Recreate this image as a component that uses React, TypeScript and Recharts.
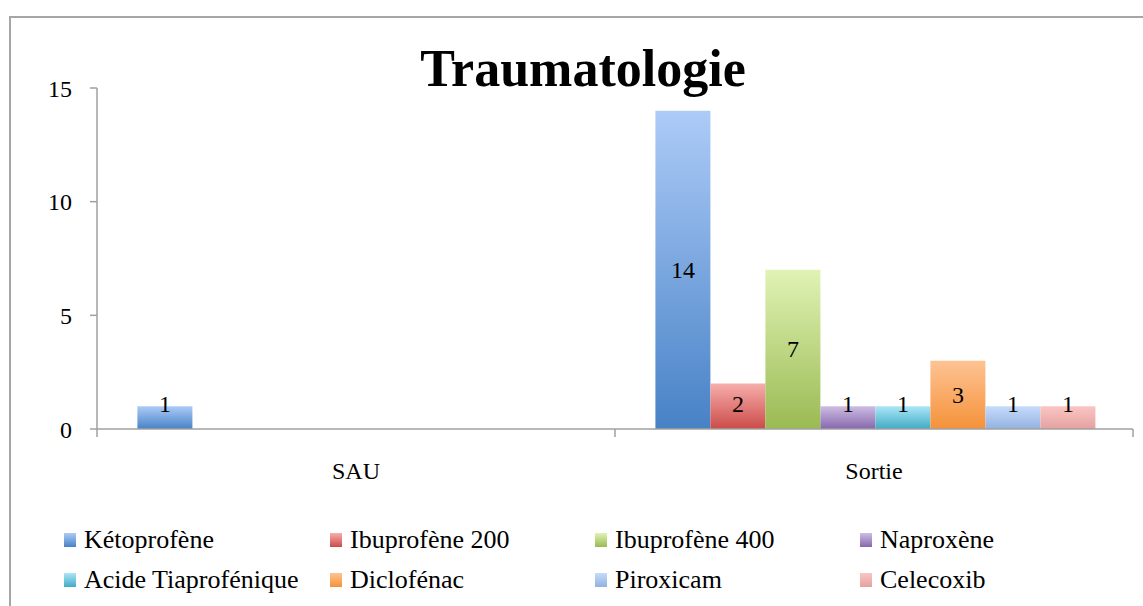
import React from "react";
import { BarChart, Bar, XAxis, YAxis, Legend, LabelList } from "recharts";

const categories = ["SAU", "Sortie"];
const seriesNames = [
  "Kétoprofène",
  "Ibuprofène 200",
  "Ibuprofène 400",
  "Naproxène",
  "Acide Tiaprofénique",
  "Diclofénac",
  "Piroxicam",
  "Celecoxib",
];
const ketoprofene = [1, 14];
const ibuprofene200 = [null, 2];
const ibuprofene400 = [null, 7];
const naproxene = [null, 1];
const acideTiaprofenique = [null, 1];
const diclofenac = [null, 3];
const piroxicam = [null, 1];
const celecoxib = [null, 1];
const yTicks = [0, 5, 10, 15];
const title = "Traumatologie";

const seriesValues = [
  ketoprofene,
  ibuprofene200,
  ibuprofene400,
  naproxene,
  acideTiaprofenique,
  diclofenac,
  piroxicam,
  celecoxib,
];
const colors: [string, string][] = [
  ["#adcbf7", "#4782c6"],
  ["#f7aeac", "#cb4b48"],
  ["#e0f3b4", "#9aba53"],
  ["#cdbde3", "#8667ad"],
  ["#abe6f7", "#41abc6"],
  ["#fec393", "#f5923a"],
  ["#c5dbfb", "#94b2df"],
  ["#fac5c3", "#e3a2a0"],
];

const data = categories.map((c, i) => {
  const row: any = { name: c };
  seriesNames.forEach((s, j) => {
    row["s" + j] = seriesValues[j][i];
  });
  return row;
});

const FONT = "'Liberation Serif', 'DejaVu Serif', serif";

const XTick = (props: any) => {
  const { x, y, payload, index } = props;
  const off = payload.offset || 0;
  return (
    <g>
      <line x1={x - off} y1={y} x2={x - off} y2={y + 8} stroke="#a0a0a0" strokeWidth={1.5} />
      {index === categories.length - 1 && (
        <line x1={x + off} y1={y} x2={x + off} y2={y + 8} stroke="#a0a0a0" strokeWidth={1.5} />
      )}
      <text x={x} y={y + 50} textAnchor="middle" fontFamily={FONT} fontSize={24} fill="#000">
        {payload.value}
      </text>
    </g>
  );
};

const BarLabel = (props: any) => {
  const { x, y, width, height, value } = props;
  if (value === null || value === undefined) return null;
  const bottom = y + height;
  const cy = Math.min(y + height / 2, bottom - 25);
  return (
    <text
      x={x + width / 2}
      y={cy}
      textAnchor="middle"
      dominantBaseline="central"
      fontFamily={FONT}
      fontSize={24}
      fill="#000"
    >
      {value}
    </text>
  );
};

const LegendContent = () => {
  const colX = [64, 330, 595, 860];
  return (
    <div style={{ position: "relative", width: 1143, height: 90, fontFamily: FONT }}>
      {seriesNames.map((s, j) => {
        const row = Math.floor(j / 4);
        const col = j % 4;
        return (
          <div
            key={s}
            style={{
              position: "absolute",
              left: colX[col],
              top: 34 + row * 40 - 15,
              height: 30,
              display: "flex",
              alignItems: "center",
              whiteSpace: "nowrap",
            }}
          >
            <div
              style={{
                width: 12,
                height: 14,
                background: `linear-gradient(${colors[j][0]}, ${colors[j][1]})`,
                marginRight: 8,
              }}
            />
            <span style={{ fontSize: 26, color: "#000" }}>{s}</span>
          </div>
        );
      })}
    </div>
  );
};

export default function App() {
  return (
    <div style={{ position: "absolute", left: 0, top: 0, width: 1143, height: 606, overflow: "hidden", background: "#fff" }}>
      <div
        style={{
          position: "absolute",
          left: 9,
          top: 16,
          width: 1300,
          height: 800,
          border: "2px solid #a6a6a6",
          boxSizing: "border-box",
        }}
      />
      <BarChart
        width={1143}
        height={606}
        data={data}
        margin={{ top: 88, right: 10, bottom: 10, left: 0 }}
        barGap={0}
        barCategoryGap="7.8%"
        style={{ position: "absolute", left: 0, top: 0 }}
      >
        <defs>
          {colors.map((c, j) => (
            <linearGradient key={j} id={"g" + j} x1="0" y1="0" x2="0" y2="1">
              <stop offset="0%" stopColor={c[0]} />
              <stop offset="100%" stopColor={c[1]} />
            </linearGradient>
          ))}
        </defs>
        <XAxis
          dataKey="name"
          height={77}
          tickLine={false}
          tickSize={0}
          tickMargin={0}
          axisLine={{ stroke: "#a0a0a0", strokeWidth: 1.5 }}
          tick={<XTick />}
          interval={0}
        />
        <YAxis
          width={97}
          domain={[0, 15]}
          ticks={yTicks}
          tickSize={7}
          tickMargin={18}
          axisLine={{ stroke: "#a0a0a0", strokeWidth: 1.5 }}
          tickLine={{ stroke: "#a0a0a0", strokeWidth: 1.5 }}
          tick={{ fontFamily: FONT, fontSize: 24, fill: "#000" }}
        />
        <Legend verticalAlign="bottom" content={<LegendContent />} wrapperStyle={{ height: 90 }} />
        {seriesNames.map((s, j) => (
          <Bar key={s} dataKey={"s" + j} name={s} fill={`url(#g${j})`} isAnimationActive={false}>
            <LabelList dataKey={"s" + j} content={<BarLabel />} />
          </Bar>
        ))}
      </BarChart>
      <div
        style={{
          position: "absolute",
          left: 0,
          top: 42,
          width: 1166,
          textAlign: "center",
          fontFamily: FONT,
          fontWeight: "bold",
          fontSize: 52,
          lineHeight: "54px",
          color: "#000",
        }}
      >
        {title}
      </div>
    </div>
  );
}
